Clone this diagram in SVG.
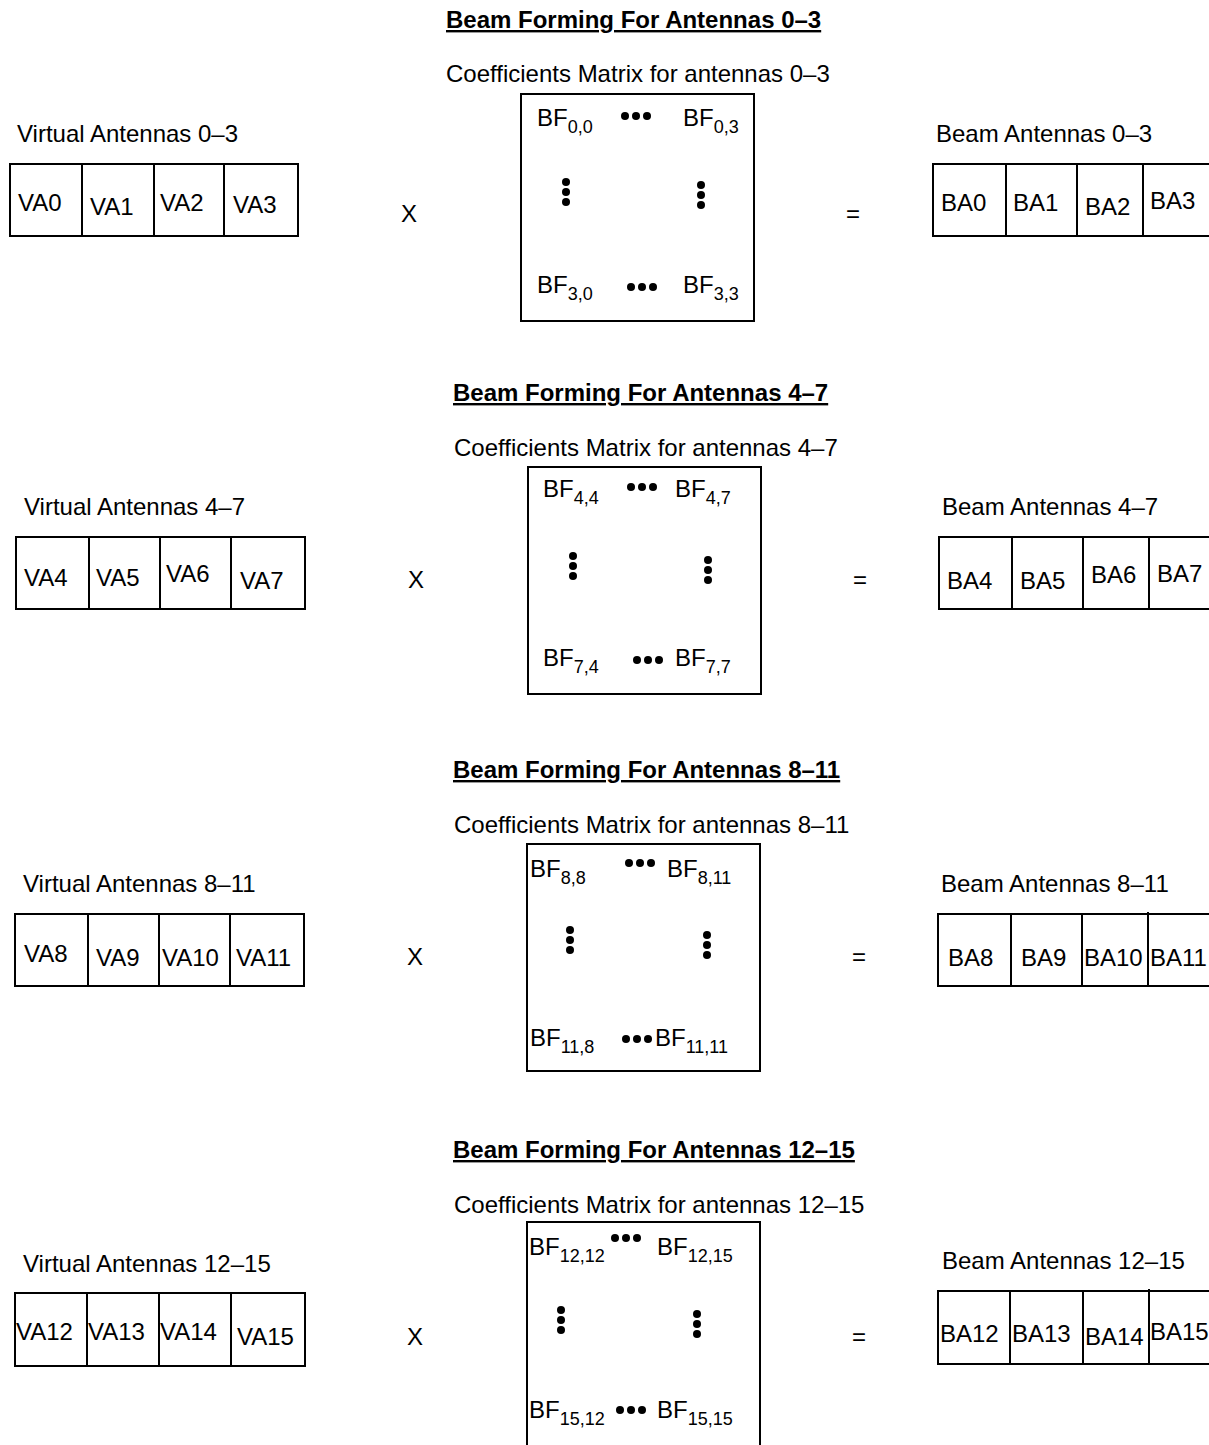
<svg xmlns="http://www.w3.org/2000/svg" width="1209" height="1445" viewBox="0 0 1209 1445">
<style>
text{font-family:"Liberation Sans",Arial,sans-serif;font-size:24px;fill:#000}
.t{font-weight:bold;text-decoration:underline}
.s{font-size:18px}
.b{fill:none;stroke:#000;stroke-width:2}
.d{fill:#000}
</style>
<rect width="1209" height="1445" fill="#fff"/>

<g id="section1">
<text class="t" x="446" y="28">Beam Forming For Antennas 0–3</text>
<text x="446" y="82">Coefficients Matrix for antennas 0–3</text>
<g id="va0-3">
<text x="17" y="142">Virtual Antennas 0–3</text>
<rect class="b" x="10" y="164" width="288" height="72"/>
<path class="b" d="M82 164V236M154 164V236M224 164V236"/>
<text x="18" y="211">VA0</text><text x="90" y="215">VA1</text><text x="160" y="211">VA2</text><text x="233" y="213">VA3</text>
</g>
<text x="401" y="222">X</text>
<g id="bf0-3">
<rect class="b" x="521" y="94" width="233" height="227"/>
<text x="537" y="126">BF<tspan class="s" dy="7">0,0</tspan></text>
<text x="683" y="126">BF<tspan class="s" dy="7">0,3</tspan></text>
<text x="537" y="293">BF<tspan class="s" dy="7">3,0</tspan></text>
<text x="683" y="293">BF<tspan class="s" dy="7">3,3</tspan></text>
<g class="d"><circle cx="625" cy="116" r="4"/><circle cx="636" cy="116" r="4"/><circle cx="647" cy="116" r="4"/>
<circle cx="631" cy="287" r="4"/><circle cx="642" cy="287" r="4"/><circle cx="653" cy="287" r="4"/>
<circle cx="566" cy="182" r="4"/><circle cx="566" cy="192" r="4"/><circle cx="566" cy="202" r="4"/>
<circle cx="701" cy="185" r="4"/><circle cx="701" cy="195" r="4"/><circle cx="701" cy="205" r="4"/></g>
</g>
<text x="846" y="222">=</text>
<g id="ba0-3">
<text x="936" y="142">Beam Antennas 0–3</text>
<rect class="b" x="933" y="164" width="290" height="72"/>
<path class="b" d="M1006 164V236M1077 164V236M1143 164V236"/>
<text x="941" y="211">BA0</text><text x="1013" y="211">BA1</text><text x="1085" y="215">BA2</text><text x="1150" y="209">BA3</text>
</g>
</g>

<g id="section2">
<text class="t" x="453" y="401">Beam Forming For Antennas 4–7</text>
<text x="454" y="456">Coefficients Matrix for antennas 4–7</text>
<g id="va4-7">
<text x="24" y="515">Virtual Antennas 4–7</text>
<rect class="b" x="16" y="537" width="289" height="72"/>
<path class="b" d="M89 537V609M160 537V609M231 537V609"/>
<text x="24" y="586">VA4</text><text x="96" y="586">VA5</text><text x="166" y="582">VA6</text><text x="240" y="589">VA7</text>
</g>
<text x="408" y="588">X</text>
<g id="bf4-7">
<rect class="b" x="528" y="467" width="233" height="227"/>
<text x="543" y="497">BF<tspan class="s" dy="7">4,4</tspan></text>
<text x="675" y="497">BF<tspan class="s" dy="7">4,7</tspan></text>
<text x="543" y="666">BF<tspan class="s" dy="7">7,4</tspan></text>
<text x="675" y="666">BF<tspan class="s" dy="7">7,7</tspan></text>
<g class="d"><circle cx="631" cy="487" r="4"/><circle cx="642" cy="487" r="4"/><circle cx="653" cy="487" r="4"/>
<circle cx="637" cy="660" r="4"/><circle cx="648" cy="660" r="4"/><circle cx="659" cy="660" r="4"/>
<circle cx="573" cy="556" r="4"/><circle cx="573" cy="566" r="4"/><circle cx="573" cy="576" r="4"/>
<circle cx="708" cy="560" r="4"/><circle cx="708" cy="570" r="4"/><circle cx="708" cy="580" r="4"/></g>
</g>
<text x="853" y="588">=</text>
<g id="ba4-7">
<text x="942" y="515">Beam Antennas 4–7</text>
<rect class="b" x="939" y="537" width="290" height="72"/>
<path class="b" d="M1012 537V609M1083 537V609M1149 537V609"/>
<text x="947" y="589">BA4</text><text x="1020" y="589">BA5</text><text x="1091" y="583">BA6</text><text x="1157" y="582">BA7</text>
</g>
</g>

<g id="section3">
<text class="t" x="453" y="778">Beam Forming For Antennas 8–11</text>
<text x="454" y="833">Coefficients Matrix for antennas 8–11</text>
<g id="va8-11">
<text x="23" y="892">Virtual Antennas 8–11</text>
<rect class="b" x="15" y="914" width="289" height="72"/>
<path class="b" d="M88 914V986M159 914V986M230 914V986"/>
<text x="24" y="962">VA8</text><text x="96" y="966">VA9</text><text x="162" y="966">VA10</text><text x="236" y="966">VA11</text>
</g>
<text x="407" y="965">X</text>
<g id="bf8-11">
<rect class="b" x="527" y="844" width="233" height="227"/>
<text x="530" y="877">BF<tspan class="s" dy="7">8,8</tspan></text>
<text x="667" y="877">BF<tspan class="s" dy="7">8,11</tspan></text>
<text x="530" y="1046">BF<tspan class="s" dy="7">11,8</tspan></text>
<text x="655" y="1046">BF<tspan class="s" dy="7">11,11</tspan></text>
<g class="d"><circle cx="629" cy="863" r="4"/><circle cx="640" cy="863" r="4"/><circle cx="651" cy="863" r="4"/>
<circle cx="626" cy="1039" r="4"/><circle cx="637" cy="1039" r="4"/><circle cx="648" cy="1039" r="4"/>
<circle cx="570" cy="930" r="4"/><circle cx="570" cy="940" r="4"/><circle cx="570" cy="950" r="4"/>
<circle cx="707" cy="935" r="4"/><circle cx="707" cy="945" r="4"/><circle cx="707" cy="955" r="4"/></g>
</g>
<text x="852" y="965">=</text>
<g id="ba8-11">
<text x="941" y="892">Beam Antennas 8–11</text>
<rect class="b" x="938" y="914" width="290" height="72"/>
<path class="b" d="M1011 914V986M1082 914V986M1148 912V986"/>
<text x="948" y="966">BA8</text><text x="1021" y="966">BA9</text><text x="1084" y="966">BA10</text><text x="1150" y="966">BA11</text>
</g>
</g>

<g id="section4">
<text class="t" x="453" y="1158">Beam Forming For Antennas 12–15</text>
<text x="454" y="1213">Coefficients Matrix for antennas 12–15</text>
<g id="va12-15">
<text x="23" y="1272">Virtual Antennas 12–15</text>
<rect class="b" x="15" y="1293" width="290" height="73"/>
<path class="b" d="M87 1293V1366M159 1293V1366M231 1293V1366"/>
<text x="16" y="1340">VA12</text><text x="88" y="1340">VA13</text><text x="160" y="1340">VA14</text><text x="237" y="1345">VA15</text>
</g>
<text x="407" y="1345">X</text>
<g id="bf12-15">
<rect class="b" x="527" y="1222" width="233" height="240"/>
<text x="529" y="1255">BF<tspan class="s" dy="7">12,12</tspan></text>
<text x="657" y="1255">BF<tspan class="s" dy="7">12,15</tspan></text>
<text x="529" y="1418">BF<tspan class="s" dy="7">15,12</tspan></text>
<text x="657" y="1418">BF<tspan class="s" dy="7">15,15</tspan></text>
<g class="d"><circle cx="615" cy="1238" r="4"/><circle cx="626" cy="1238" r="4"/><circle cx="637" cy="1238" r="4"/>
<circle cx="620" cy="1410" r="4"/><circle cx="631" cy="1410" r="4"/><circle cx="642" cy="1410" r="4"/>
<circle cx="561" cy="1310" r="4"/><circle cx="561" cy="1320" r="4"/><circle cx="561" cy="1330" r="4"/>
<circle cx="697" cy="1314" r="4"/><circle cx="697" cy="1324" r="4"/><circle cx="697" cy="1334" r="4"/></g>
</g>
<text x="852" y="1345">=</text>
<g id="ba12-15">
<text x="942" y="1269">Beam Antennas 12–15</text>
<rect class="b" x="938" y="1291" width="290" height="73"/>
<path class="b" d="M1010 1291V1364M1083 1291V1364M1149 1289V1364"/>
<text x="940" y="1342">BA12</text><text x="1012" y="1342">BA13</text><text x="1085" y="1345">BA14</text><text x="1150" y="1340">BA15</text>
</g>
</g>

<g id="connectors"/>
</svg>
